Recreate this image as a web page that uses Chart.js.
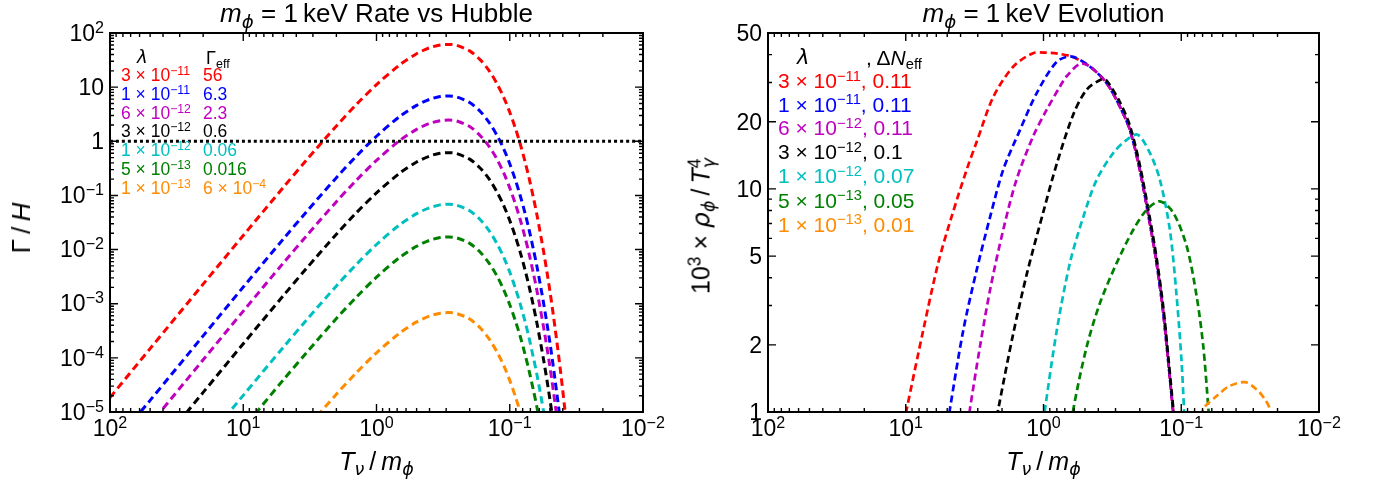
<!DOCTYPE html>
<html>
<head>
<meta charset="utf-8">
<title>m_phi = 1 keV</title>
<script src="https://cdn.jsdelivr.net/npm/chart.js"></script>
<style>
  html, body { margin: 0; padding: 0; background: #fff; }
  #page { position: relative; width: 1378px; height: 487px; overflow: hidden;
          font-family: "Liberation Sans", Arial, Helvetica, sans-serif; color: #000; }
  canvas { position: absolute; top: 0; }
  #rate { left: 0; }
  #evo { left: 690px; }
  .lbl { position: absolute; white-space: nowrap; line-height: 1; }
  .lbl sup, .lbl sub { font-size: 0.7em; position: relative; vertical-align: baseline; line-height: 0; }
  .lbl sup { top: -0.5em; }
  .lbl sub { top: 0.3em; }
  .it { font-style: italic; }
  .gr { font-family: "DejaVu Sans", sans-serif; font-style: italic; }
</style>
</head>
<body>
<div id="page">
  <canvas id="rate" width="690" height="487"></canvas>
  <canvas id="evo" width="688" height="487"></canvas>
</div>
<script>
// ---------- left panel: Gamma / H ----------
const rateT = [100, 50, 20, 10, 5, 3.33, 2, 1.43, 1, 0.667, 0.5, 0.4, 0.333, 0.286, 0.25, 0.2,
  0.167, 0.143, 0.125, 0.111, 0.1, 0.0909, 0.0833, 0.0769, 0.0714, 0.0667, 0.0625, 0.0556,
  0.05, 0.0455, 0.0417, 0.0385, 0.0357];
const rateRed = [1.85e-5, 1.48e-4, 2.30e-3, 0.0182, 0.141, 0.458, 1.92, 4.67, 11.1, 26.0, 41.4,
  53.3, 60.1, 61.6, 59.2, 46.8, 32.2, 20.2, 11.7, 6.50, 3.45, 1.77, 0.88, 0.427, 0.203, 0.0948,
  0.0436, 8.9e-3, 1.74e-3, 3.28e-4, 6.0e-5, 1.07e-5, 1.89e-6];
const rateBlue = [2.1e-6, 1.64e-5, 2.55e-4, 2.03e-3, 0.0157, 0.0510, 0.213, 0.519, 1.24, 2.89,
  4.61, 5.93, 6.69, 6.85, 6.58, 5.20, 3.59, 2.24, 1.30, 0.723, 0.384, 0.196, 0.0977, 0.0475,
  0.0226, 0.0105, 4.86e-3, 9.9e-4, 1.94e-4, 3.6e-5, 6.7e-6, 1.2e-6, 2.1e-7];
const rateMagenta = [7.3e-7, 5.9e-6, 9.2e-5, 7.29e-4, 5.65e-3, 0.0183, 0.0765, 0.186, 0.445,
  1.04, 1.66, 2.14, 2.40, 2.47, 2.37, 1.88, 1.28, 0.806, 0.472, 0.260, 0.138, 0.0706, 0.0352,
  0.0171, 8.1e-3, 3.79e-3, 1.74e-3, 3.56e-4, 7.0e-5, 1.32e-5, 2.4e-6, 4.3e-7, 7.6e-8];
const rateBlack = [1.85e-7, 1.48e-6, 2.30e-5, 1.82e-4, 1.41e-3, 4.58e-3, 0.0192, 0.0467, 0.111,
  0.260, 0.414, 0.533, 0.601, 0.616, 0.592, 0.468, 0.322, 0.202, 0.117, 0.0650, 0.0345, 0.0177,
  8.8e-3, 4.27e-3, 2.03e-3, 9.48e-4, 4.36e-4, 8.9e-5, 1.74e-5, 3.28e-6, 6.0e-7, 1.07e-7, 1.89e-8];
const rateCyan = [2.1e-8, 1.64e-7, 2.55e-6, 2.03e-5, 1.57e-4, 5.10e-4, 2.13e-3, 5.19e-3, 0.0124,
  0.0289, 0.0461, 0.0593, 0.0669, 0.0685, 0.0658, 0.0520, 0.0359, 0.0224, 0.0130, 7.23e-3,
  3.84e-3, 1.96e-3, 9.77e-4, 4.75e-4, 2.26e-4, 1.05e-4, 4.86e-5, 9.9e-6, 1.94e-6, 3.6e-7,
  6.7e-8, 1.2e-8, 2.1e-9];
const rateGreen = [5.2e-9, 4.1e-8, 6.4e-7, 5.0e-6, 3.93e-5, 1.27e-4, 5.32e-4, 1.29e-3, 3.09e-3,
  7.2e-3, 0.0115, 0.0148, 0.0167, 0.0171, 0.0164, 0.0130, 9.0e-3, 5.6e-3, 3.28e-3, 1.81e-3,
  9.6e-4, 4.91e-4, 2.45e-4, 1.18e-4, 5.6e-5, 2.63e-5, 1.22e-5, 2.48e-6, 4.8e-7, 9.1e-8, 1.6e-8,
  3.0e-9, 5.3e-10];
const rateOrange = [2.1e-10, 1.64e-9, 2.55e-8, 2.03e-7, 1.57e-6, 5.10e-6, 2.13e-5, 5.19e-5,
  1.24e-4, 2.89e-4, 4.61e-4, 5.93e-4, 6.69e-4, 6.85e-4, 6.58e-4, 5.20e-4, 3.59e-4, 2.24e-4,
  1.30e-4, 7.23e-5, 3.84e-5, 1.96e-5, 9.77e-6, 4.75e-6, 2.26e-6, 1.05e-6, 4.86e-7, 9.9e-8,
  1.94e-8, 3.6e-9, 6.7e-10, 1.2e-10, 2.1e-11];
const unityT = [100, 0.01];
const unityY = [1, 1];

// ---------- right panel: 10^3 rho / T^4 ----------
const evoRedT = [10.7, 9.84, 7.46, 5.81, 4.65, 3.61, 3.05, 2.31, 1.66, 1.19, 0.95, 0.79, 0.624,
  0.459, 0.348, 0.279, 0.236, 0.2, 0.169, 0.151, 0.135, 0.124, 0.115, 0.11];
const evoRedY = [0.79, 1.03, 2.33, 4.66, 7.5, 12.2, 16.3, 25.9, 35.3, 40.6, 40.8, 40.4, 39.2,
  35.3, 29.8, 23.4, 18.4, 12.2, 7.0, 4.66, 2.78, 1.66, 1.03, 0.8];
const evoBlueT = [5.07, 4.78, 3.82, 3.05, 2.44, 1.96, 1.48, 1.12, 0.80, 0.624, 0.459, 0.348,
  0.279, 0.236, 0.2, 0.169, 0.151, 0.135, 0.124, 0.115, 0.11];
const evoBlueY = [0.79, 1.03, 2.33, 4.35, 7.5, 12.2, 18.4, 26.9, 37.2, 39.2, 35.3, 29.8, 23.4,
  18.4, 12.2, 7.0, 4.66, 2.78, 1.66, 1.03, 0.8];
const evoMagentaT = [3.63, 3.42, 2.89, 2.44, 1.96, 1.57, 1.19, 0.95, 0.759, 0.679, 0.543, 0.459,
  0.348, 0.279, 0.236, 0.2, 0.169, 0.151, 0.135, 0.124, 0.115, 0.11];
const evoMagentaY = [0.79, 1.03, 1.97, 3.54, 6.56, 11.0, 17.2, 22.6, 28.8, 32.0, 36.4, 35.3, 29.8,
  23.4, 18.4, 12.2, 7.0, 4.66, 2.78, 1.66, 1.03, 0.8];
const evoBlackT = [2.24, 2.13, 1.66, 1.32, 1.0, 0.80, 0.607, 0.485, 0.378, 0.348, 0.279, 0.236,
  0.2, 0.169, 0.151, 0.135, 0.124, 0.114, 0.108];
const evoBlackY = [0.85, 1.03, 2.24, 4.17, 7.94, 13.0, 21.6, 27.9, 31.0, 30.6, 24.5, 19.2, 12.8,
  7.4, 4.9, 2.95, 1.75, 1.03, 0.8];
const evoCyanT = [1.02, 0.975, 0.80, 0.643, 0.514, 0.411, 0.311, 0.249, 0.207, 0.169, 0.143,
  0.121, 0.108, 0.0993, 0.0955, 0.0933];
const evoCyanY = [0.8, 1.03, 2.33, 4.66, 7.5, 11, 14.5, 16.6, 17.5, 14.5, 11, 6.56, 3.3, 1.66,
  1.03, 0.8];
const evoGreenT = [0.631, 0.607, 0.485, 0.389, 0.294, 0.223, 0.178, 0.143, 0.114, 0.0912,
  0.0773, 0.0692, 0.0635, 0.0617];
const evoGreenY = [0.8, 1.03, 1.97, 3.08, 4.66, 6.56, 8.07, 8.8, 7.8, 5.52, 3.3, 1.97, 1.03, 0.8];
const evoOrangeT = [0.0716, 0.0692, 0.0553, 0.0443, 0.0344, 0.0283, 0.0247, 0.0227, 0.0219];
const evoOrangeY = [0.85, 1.03, 1.18, 1.31, 1.36, 1.26, 1.14, 1.03, 0.9];

// ---------- legend entries and ticks ----------
const colors = ['#ff0000', '#0000ff', '#bf00bf', '#000000', '#00bfbf', '#008000', '#ff8c00'];
const lamMant = [3, 1, 6, 3, 1, 5, 1];
const lamExp = [-11, -11, -12, -12, -12, -13, -13];
const gammaEff = ['56', '6.3', '2.3', '0.6', '0.06', '0.016', '6 × 10<sup>−4</sup>'];
const deltaNeff = ['0.11', '0.11', '0.11', '0.1', '0.07', '0.05', '0.01'];

const xTickExp = [2, 1, 0, -1, -2];
const rateYTickExp = [2, 1, 0, -1, -2, -3, -4, -5];
const evoYTicks = [50, 20, 10, 5, 2, 1];
const evoYMinor = [3, 4, 6, 7, 8, 9, 30, 40];

function pow10(e) {
  return '10<sup>' + (e < 0 ? '−' + (-e) : e) + '</sup>';
}
function logMinors(lo, hi) {
  const out = [];
  for (let k = Math.floor(Math.log10(lo)); k < Math.ceil(Math.log10(hi)); k++) {
    for (let m = 2; m <= 9; m++) {
      const v = m * Math.pow(10, k);
      if (v > lo && v < hi) out.push(v);
    }
  }
  return out;
}

function line(xs, ys, color, dash, width) {
  return {
    data: xs.map((x, i) => ({ x: x, y: ys[i] })),
    borderColor: color,
    borderWidth: width,
    borderDash: dash,
    borderCapStyle: 'butt',
    pointRadius: 0,
    tension: 0.3,
    fill: false
  };
}

// box + inward ticks on all four sides
const frame = {
  id: 'frame',
  afterDatasetsDraw(chart, args, opts) {
    const { ctx, chartArea: a } = chart;
    const xs = chart.scales.x, ys = chart.scales.y;
    ctx.save();
    ctx.strokeStyle = '#000';
    ctx.lineWidth = 1.4;
    ctx.beginPath();
    const xTick = (v, len) => {
      const p = xs.getPixelForValue(v);
      ctx.moveTo(p, a.bottom); ctx.lineTo(p, a.bottom - len);
      ctx.moveTo(p, a.top); ctx.lineTo(p, a.top + len);
    };
    const yTick = (v, len) => {
      const p = ys.getPixelForValue(v);
      ctx.moveTo(a.left, p); ctx.lineTo(a.left + len, p);
      ctx.moveTo(a.right, p); ctx.lineTo(a.right - len, p);
    };
    opts.xMajor.forEach(v => xTick(v, 8));
    opts.xMinor.forEach(v => xTick(v, 4));
    opts.yMajor.forEach(v => yTick(v, 8));
    opts.yMinor.forEach(v => yTick(v, 4));
    ctx.stroke();
    ctx.lineWidth = 2;
    ctx.strokeRect(a.left, a.top, a.right - a.left, a.bottom - a.top);
    ctx.restore();
  }
};

function baseOptions(yMin, yMax, yWidth, padRight, frameOpts) {
  return {
    responsive: false,
    animation: false,
    events: [],
    layout: { padding: { left: 0, right: padRight, top: 33, bottom: 0 } },
    plugins: { legend: { display: false }, tooltip: { enabled: false }, frame: frameOpts },
    scales: {
      x: {
        type: 'logarithmic', reverse: true, min: 0.01, max: 100,
        ticks: { display: false }, grid: { display: false }, border: { display: false },
        afterFit: s => { s.height = 75; }
      },
      y: {
        type: 'logarithmic', min: yMin, max: yMax,
        ticks: { display: false }, grid: { display: false }, border: { display: false },
        afterFit: s => { s.width = yWidth; }
      }
    }
  };
}

const xMajor = xTickExp.map(e => Math.pow(10, e));

const rateSeries = [rateRed, rateBlue, rateMagenta, rateBlack, rateCyan, rateGreen, rateOrange];
const rateSets = rateSeries.map((ys, i) => line(rateT, ys, colors[i], [7.5, 4.5], 3));
rateSets.push(line(unityT, unityY, '#000', [3, 3], 3));
rateSets.reverse();

const rateChart = new Chart(document.getElementById('rate'), {
  type: 'line',
  data: { datasets: rateSets },
  options: baseOptions(1e-5, 100, 110, 47, {
    xMajor: xMajor, xMinor: logMinors(0.01, 100),
    yMajor: rateYTickExp.map(e => Math.pow(10, e)), yMinor: logMinors(1e-5, 100)
  }),
  plugins: [frame]
});

const evoT = [evoRedT, evoBlueT, evoMagentaT, evoBlackT, evoCyanT, evoGreenT, evoOrangeT];
const evoY = [evoRedY, evoBlueY, evoMagentaY, evoBlackY, evoCyanY, evoGreenY, evoOrangeY];
const evoSets = evoT.map((xs, i) => line(xs, evoY[i], colors[i], [7, 4], 2.7)).reverse();

const evoChart = new Chart(document.getElementById('evo'), {
  type: 'line',
  data: { datasets: evoSets },
  options: baseOptions(1, 50, 78, 59, {
    xMajor: xMajor, xMinor: logMinors(0.01, 100),
    yMajor: evoYTicks, yMinor: evoYMinor
  }),
  plugins: [frame]
});

// ---------- text as html ----------
const page = document.getElementById('page');
function put(html, x, y, size, align, color) {
  const d = document.createElement('div');
  d.className = 'lbl';
  d.innerHTML = html;
  d.style.fontSize = size + 'px';
  d.style.left = x + 'px';
  d.style.top = (y - 0.49 * size) + 'px';
  if (align === 'center') d.style.transform = 'translateX(-50%)';
  if (align === 'right') d.style.transform = 'translateX(-100%)';
  if (color) d.style.color = color;
  page.appendChild(d);
  return d;
}
function putRotated(html, cx, cy, size) {
  const d = document.createElement('div');
  d.className = 'lbl';
  d.innerHTML = html;
  d.style.fontSize = size + 'px';
  d.style.left = cx + 'px';
  d.style.top = cy + 'px';
  d.style.transform = 'translate(-50%, -50%) rotate(-90deg)';
  page.appendChild(d);
}

function axisText(chart, offset, yLabels) {
  const a = chart.chartArea, xs = chart.scales.x, ys = chart.scales.y;
  xTickExp.forEach(e => put(pow10(e), offset + xs.getPixelForValue(Math.pow(10, e)), a.bottom + 16, 23, 'center'));
  yLabels.forEach(([v, html]) => put(html, offset + a.left - 6, ys.getPixelForValue(v), 23, 'right'));
  const cx = offset + (a.left + a.right) / 2;
  put('<span class="it">T</span><sub class="gr">ν</sub>&thinsp;/&thinsp;<span class="it">m</span><sub class="gr">ϕ</sub>', cx, 461, 25, 'center');
  return cx;
}

const mPhi = '<span class="it">m</span><sub class="gr">ϕ</sub> = 1&thinsp;keV ';

const rateCx = axisText(rateChart, 0, rateYTickExp.map(e => [Math.pow(10, e), e === 0 ? '1' : e === 1 ? '10' : pow10(e)]));
put(mPhi + 'Rate vs Hubble', rateCx, 13, 26, 'center');
putRotated('Γ&thinsp;/&thinsp;<span class="it">H</span>', 21, 228, 26);

const evoCx = axisText(evoChart, 690, evoYTicks.map(v => [v, String(v)]));
put(mPhi + 'Evolution', evoCx, 13, 26, 'center');
putRotated('10<sup>3</sup> × <span class="gr">ρ</span><sub class="gr">ϕ</sub>&thinsp;/&thinsp;<span class="it">T</span><sup>4</sup><sub class="gr" style="margin-left:-0.55em">γ</sub>', 701, 226, 25);

// legends
put('<span class="gr">λ</span>', 137, 57, 18);
put('Γ<sub>eff</sub>', 206, 58, 18);
put('<span class="gr">λ</span>', 797, 56, 21);
put(', Δ<span class="it">N</span><sub>eff</sub>', 866, 57, 21);
const rateRows = [75.7, 95, 113.7, 132, 150.5, 169.3, 188.3];
const evoRows = [80.7, 103.8, 127.4, 151.5, 175.6, 199.8, 223.8];
lamMant.forEach((m, i) => {
  const lam = m + ' × ' + pow10(lamExp[i]);
  put(lam, 121, rateRows[i], 17.5, null, colors[i]);
  put(gammaEff[i], 203, rateRows[i], 17.5, null, colors[i]);
  put(lam + ', ' + deltaNeff[i], 778, evoRows[i], 21, null, colors[i]);
});
</script>
</body>
</html>
